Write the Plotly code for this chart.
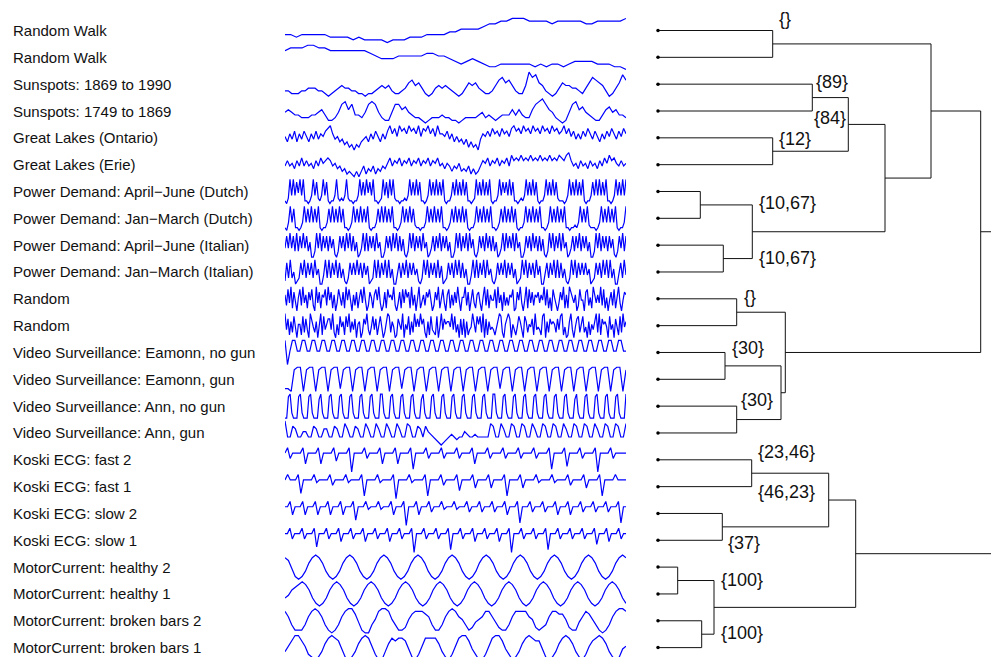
import plotly.graph_objects as go

# ---------------- row labels ----------------
row_labels = [
    "Random Walk", "Random Walk",
    "Sunspots: 1869 to 1990", "Sunspots: 1749 to 1869",
    "Great Lakes (Ontario)", "Great Lakes (Erie)",
    "Power Demand: April\u2212June (Dutch)", "Power Demand: Jan\u2212March (Dutch)",
    "Power Demand: April\u2212June (Italian)", "Power Demand: Jan\u2212March (Italian)",
    "Random", "Random",
    "Video Surveillance: Eamonn, no gun", "Video Surveillance: Eamonn, gun",
    "Video Surveillance: Ann, no gun", "Video Surveillance: Ann, gun",
    "Koski ECG: fast 2", "Koski ECG: fast 1", "Koski ECG: slow 2", "Koski ECG: slow 1",
    "MotorCurrent: healthy 2", "MotorCurrent: healthy 1",
    "MotorCurrent: broken bars 2", "MotorCurrent: broken bars 1",
]

# ---------------- series values (levels 0-9) ----------------
rw1 = ("3323333322" "2212111101" "1122233334" "4555567788" "9998888788" "88877888889")
rw2 = ("7888998877" "7777765444" "5555566554" "3234321122" "2222121221" "23333222110")
ss_1869 = ("2211122333" "2210123433" "2211011234" "3421123564" "5310134343" "2101354532"
           "1124675642" "1149785421" "0135443321" "3576542013" "586")
ss_1749 = ("4543322233" "4531124785" "7332478742" "1147756432" "2101222322" "1101222234"
           "2321233353" "5322578975" "4210147856" "4321135645" "332")
gl_ontario = ("5364736475364746" "5789" "645342312021" "34536475364"
              "79685978697869587968596" "6574635342413120" "4657586758675"
              "8978697869786978697867968" "574647586475364758647586")
gl_erie = ("4645364746453647" "5676" "453423121020" "24132413243"
           "57465746574657465746574" "5354243523241312" "4657465746574"
           "8676867686768676867687689" "645364536453647586754645")
pd_dutch_apr = ("10"
                "2939384939" "1101" "3938213938" "1011" "3921213921" "1011"
                "3938394839" "1101" "2938293921" "1011" "2139383938" "1101"
                "3938393839" "1011" "3839383938" "1101" "2938393839" "1011"
                "3938483938" "1101" "2139383938" "1011" "3938393821" "1101"
                "3938393839" "1011" "3839393839" "1101" "39383939")
pd_dutch_jan = ("10" "3938" "1101"
                "3938393839" "1011" "3839383938" "1101" "3938393839" "1011"
                "3839393839" "1101" "3938393821" "1011" "3938393839" "1101"
                "3839383938" "1011" "3938393839" "1101" "3839383938" "1011"
                "3938393839" "1101" "3938393839" "11011" "2139383921" "1101"
                "3938393839" "1011" "39")
pd_italy_apr = ("4849"
                "4839384948" "36" "11" "3949384838" "47" "21" "3848394938" "36" "12"
                "4939384839" "46" "11" "3848394938" "37" "21" "3949384839" "46" "12"
                "4838493848" "36" "11" "3949384939" "47" "21" "3848394838" "36" "12"
                "4939484939" "46" "11" "3848394838" "37" "21" "3949384939" "46" "12"
                "4838493848" "36" "11" "3949384838" "47" "21" "384938")
pd_italy_jan = ("2839" "35" "12"
                "3849384839" "46" "11" "4939384938" "36" "21" "3848494838" "47" "12"
                "3939384939" "36" "11" "4838493848" "46" "21" "3949384839" "37" "12"
                "3848394938" "36" "11" "4939384939" "46" "21" "3848493848" "36" "12"
                "3949384839" "47" "11" "4838493938" "36" "21" "3949384848" "46" "12"
                "3848394939" "36" "11" "48394")
random_1 = ("6283917405" "8293617482" "0937165829" "4716038527" "1948306271"
            "5839402751" "6849302718" "5649203718" "3857192604" "9136275840"
            "2749158306" "8162739405" "5927048316" "7305928164" "4819360725"
            "2658017493" "0491837265" "7364928150" "8520374916" "1975360284"
            "4078251963" "6392815047" "2815930476")
random_2 = ("9371628405" "5182730964" "2604918357" "7392051846" "1849263705"
            "6027593148" "3715840269" "8264017539" "0538162947" "4957206183"
            "2180493756" "6493825071" "7061349528" "5829071634" "3146982057"
            "9705314862" "0862547193" "4318906275" "6527389140" "1693047825"
            "8240615379" "2917564083" "5073182946")
vs_eamonn_nogun = ("905"
                   "9955995599559955995599559955995599559955"
                   "9955995599559955995599559955995599559955"
                   "9955995599559955995599559955995599559955"
                   "9955995599559955")
vs_eamonn_gun = ("11"
                 "0899089908990899189908990899"
                 "0899089918990899089908990899"
                 "0899089908991899089908990899"
                 "089908990899089908990899" "08")
vs_ann_nogun = ("0"
                "089200089200089200079200089200089200089200089200"
                "089200099200089200089200089200079200089200089200"
                "089200089200089200089200099200089200089200089200"
                "089200089200089200089200079200089200089200089200089200" "09")
vs_ann_gun = ("93"
              "3763" "3553" "3763" "3663" "3763" "3863" "3763" "3863" "3863" "3863"
              "3863" "3873" "3763"
              "754321012343233543343333"
              "3873" "3863" "3873" "3873" "3863" "3873" "3873" "3863" "3873" "3873"
              "3863" "3873" "3873" "38")
ecg_fast2 = ("795777" "793777" "793777" "794777" "790777" "795777" "793777" "793777"
             "791777" "795777" "795777" "795777" "793777" "795777" "795777" "795777"
             "795777" "791777" "792777" "795777" "790777" "795777" "77")
ecg_fast1 = ("7977"
             "792777" "796777" "795777" "796777" "791777" "796777" "790777" "796777"
             "791777" "795777" "793777" "794777" "794777" "791777" "794777" "796777"
             "796777" "795777" "794777" "791777" "797777")
ecg_slow2 = ("7"
             "79477" "79477" "79477" "79477" "79477" "79277" "79677" "79677" "79477"
             "79077" "79477" "79577" "79677" "79677" "79577" "79577" "79577" "79477"
             "79177" "79577" "79577" "79477" "79477" "79577" "79577" "79577" "79177")
ecg_slow1 = ("7"
             "79577" "79577" "79277" "79577" "79477" "79577" "79477" "79577" "79477"
             "79577" "79077" "79577" "79577" "79177" "79577" "79477" "79577" "79477"
             "79077" "79577" "79577" "79177" "79577" "79577" "79577" "79377" "79477"
             "79577")
mc_healthy2 = ("8741"
               "0136898631" "0136898631" "0136898631" "0136898631" "0136898631"
               "0136898631" "0136898631" "0136898631" "0136898631" "0136898")
mc_healthy1 = ("34678"
               "9863101368" "9863101368" "9863101368" "9863101368" "9863101368"
               "9863101368" "9863101368" "9863101368" "9863101368" "98631")
mc_broken2 = ("8631113689" "8631013689" "9741003589" "9853112578" "8876311368"
              "9865312456" "8864211368" "8886521236" "8877521146" "8753101368" "998")
mc_broken1 = ("3579975210" "1368987410" "1368985200" "3687887410" "2588886310"
              "2589974200" "2589974201" "3689877410" "1368986310" "2578986310" "145")

series = [rw1, rw2, ss_1869, ss_1749, gl_ontario, gl_erie,
          pd_dutch_apr, pd_dutch_jan, pd_italy_apr, pd_italy_jan,
          random_1, random_2,
          vs_eamonn_nogun, vs_eamonn_gun, vs_ann_nogun, vs_ann_gun,
          ecg_fast2, ecg_fast1, ecg_slow2, ecg_slow1,
          mc_healthy2, mc_healthy1, mc_broken2, mc_broken1]

# ---------------- dendrogram (leaf a, leaf/node b, merge distance) ----------------
merges = [
    (0, 1, 114.7),     # 24
    (2, 3, 154.3),     # 25
    (4, 5, 114.7),     # 26
    (25, 26, 190.3),   # 27
    (6, 7, 42.3),      # 28
    (8, 9, 65.3),      # 29
    (28, 29, 94.3),    # 30
    (27, 30, 227.0),   # 31
    (24, 31, 273.0),   # 32
    (10, 11, 78.7),    # 33
    (12, 13, 67.0),    # 34
    (14, 15, 78.7),    # 35
    (34, 35, 123.0),   # 36
    (33, 36, 127.3),   # 37
    (32, 37, 322.7),   # 38
    (16, 17, 93.7),    # 39
    (18, 19, 64.3),    # 40
    (39, 40, 170.7),   # 41
    (20, 21, 19.7),    # 42
    (22, 23, 43.7),    # 43
    (42, 43, 56.0),    # 44
    (41, 44, 197.7),   # 45
    (38, 45, 350.0),   # 46 (beyond right edge)
]
cluster_texts = ["{}", "{89}", "{84}", "{12}", "{10,67}", "{10,67}", "{}",
                 "{30}", "{30}", "{23,46}", "{46,23}", "{37}", "{100}", "{100}"]
# placement: (node, dx, y, anchor)
cluster_place = [(24, 4.0, -0.42, "left"), (25, 1.5, 1.91, "left"), (27, -0.5, 3.26, "right"),
                 (26, 4.0, 4.04, "left"), (30, 4.5, 6.44, "left"), (30, 4.5, 8.49, "left"),
                 (33, 5.0, 9.93, "left"), (34, 4.5, 11.84, "left"), (35, 2.5, 13.77, "left"),
                 (39, 4.0, 15.7, "left"), (39, 4.5, 17.19, "left"), (40, 3.5, 19.09, "left"),
                 (44, 4.5, 20.48, "left"), (44, 4.5, 22.47, "left")]

FONT = "Arial, Liberation Sans, Helvetica, sans-serif"
fig = go.Figure()

# sparklines
for r, s in enumerate(series):
    v = [int(c) for c in s]
    lo, hi = min(v), max(v)
    n = len(v)
    xs = [i / (n - 1) for i in range(n)]
    ys = [r + 0.45 - 0.9 * (a - lo) / (hi - lo) for a in v]
    fig.add_trace(go.Scatter(x=xs, y=ys, mode="lines", xaxis="x", yaxis="y",
                             line=dict(color="#0000ff", width=1.2), hoverinfo="skip"))

# dendrogram geometry
n_leaves = len(series)
pos_y = {i: float(i) for i in range(n_leaves)}
pos_h = {i: 0.0 for i in range(n_leaves)}
lx, ly = [], []
for k, (a, b, h) in enumerate(merges):
    node = n_leaves + k
    lx += [pos_h[a], h, h, pos_h[b], None]
    ly += [pos_y[a], pos_y[a], pos_y[b], pos_y[b], None]
    pos_h[node] = h
    pos_y[node] = (pos_y[a] + pos_y[b]) / 2
fig.add_trace(go.Scatter(x=lx, y=ly, mode="lines", xaxis="x2", yaxis="y",
                         line=dict(color="#111111", width=1), hoverinfo="skip"))
fig.add_trace(go.Scatter(x=[0.0] * n_leaves, y=list(range(n_leaves)), mode="markers",
                         xaxis="x2", yaxis="y", cliponaxis=False,
                         marker=dict(color="black", size=3.5), hoverinfo="skip"))

annotations = []
for r, t in enumerate(row_labels):
    annotations.append(dict(text=t, xref="paper", x=10.5 / 991, yref="y", y=r,
                            xanchor="left", yanchor="middle", showarrow=False,
                            font=dict(family=FONT, size=15, color="#111111")))
for t, (node, dx, yy, anc) in zip(cluster_texts, cluster_place):
    annotations.append(dict(text=t, xref="x2", x=pos_h[node] + dx, yref="y", y=yy,
                            xanchor=anc, yanchor="middle", showarrow=False,
                            font=dict(family=FONT, size=18, color="#111111")))

fig.update_layout(
    width=991, height=657, margin=dict(l=0, r=0, t=0, b=0, pad=0),
    paper_bgcolor="white", plot_bgcolor="white", showlegend=False, hovermode=False,
    xaxis=dict(domain=[285 / 991, 626 / 991], range=[0, 1], visible=False),
    xaxis2=dict(domain=[658 / 991, 1], range=[0, 333], visible=False, anchor="y"),
    yaxis=dict(domain=[0, 1], range=[23.35, -1.137], visible=False),
    annotations=annotations,
)
fig.write_html("out.html")
